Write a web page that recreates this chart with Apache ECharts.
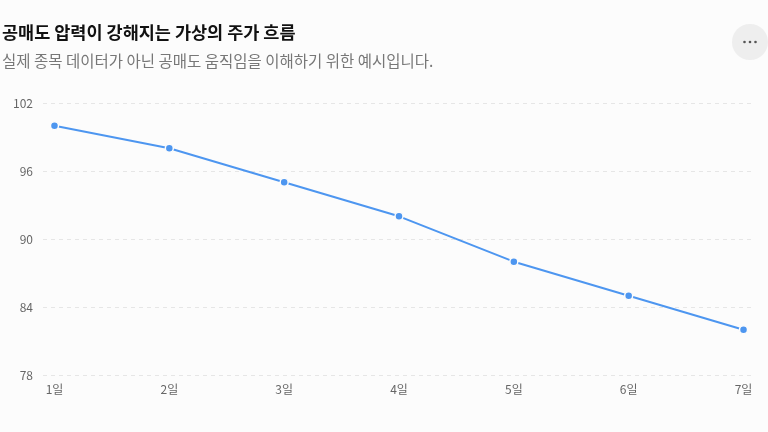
<!DOCTYPE html>
<html>
<head>
<meta charset="utf-8">
<script src="https://cdn.jsdelivr.net/npm/echarts@6/dist/echarts.min.js"></script>
<style>
  html, body { margin: 0; padding: 0; background: #fcfcfc; }
  #chart { width: 768px; height: 432px; }
</style>
</head>
<body>
<div id="chart"></div>
<script>
// 공매도 가상 주가 데이터
var days = ['1일', '2일', '3일', '4일', '5일', '6일', '7일'];
var prices = [100, 98, 95, 92, 88, 85, 82];
var yTicks = [78, 84, 90, 96, 102];

var font = '"Noto Sans CJK KR", "Noto Sans", sans-serif';
var points = prices.map(function (v, i) { return [i, v]; });

var chart = echarts.init(document.getElementById('chart'));
chart.setOption({
  backgroundColor: '#fcfcfc',
  animation: false,
  title: {
    text: '공매도 압력이 강해지는 가상의 주가 흐름',
    subtext: '실제 종목 데이터가 아닌 공매도 움직임을 이해하기 위한 예시입니다.',
    left: -3,
    top: 19,
    itemGap: 12,
    textStyle: { fontFamily: font, fontSize: 17.5, fontWeight: 'bold', color: '#111' },
    subtextStyle: { fontFamily: font, fontSize: 15.5, color: '#777' }
  },
  grid: { left: 43, right: 13, top: 103, bottom: 57 },
  xAxis: {
    type: 'value',
    min: -0.1,
    max: days.length - 1 + 0.1,
    splitLine: { show: false },
    axisLine: { show: false },
    axisTick: { show: false },
    axisLabel: {
      customValues: days.map(function (d, i) { return i; }),
      formatter: function (v) { return days[Math.round(v)]; },
      fontFamily: font, fontSize: 12, color: '#666', margin: 8
    }
  },
  yAxis: {
    type: 'value',
    min: yTicks[0],
    max: yTicks[yTicks.length - 1],
    interval: 6,
    axisLine: { show: false },
    axisTick: { show: false },
    axisLabel: { fontFamily: font, fontSize: 12, color: '#666', margin: 10 },
    splitLine: { lineStyle: { color: '#e6e6e6', type: [4, 4] } }
  },
  series: [{
    type: 'line',
    data: points,
    symbol: 'circle',
    symbolSize: 8,
    lineStyle: { color: '#4d96f0', width: 2 },
    itemStyle: { color: '#4d96f0', borderColor: '#fcfcfc', borderWidth: 1.5 }
  }],
  graphic: [{
    type: 'group',
    left: 732,
    top: 24,
    children: [
      { type: 'circle', shape: { cx: 18, cy: 18, r: 18 }, style: { fill: '#eeeeee' } },
      { type: 'circle', shape: { cx: 12.5, cy: 18, r: 1.3 }, style: { fill: '#555' } },
      { type: 'circle', shape: { cx: 18, cy: 18, r: 1.3 }, style: { fill: '#555' } },
      { type: 'circle', shape: { cx: 23.5, cy: 18, r: 1.3 }, style: { fill: '#555' } }
    ]
  }]
});
</script>
</body>
</html>
